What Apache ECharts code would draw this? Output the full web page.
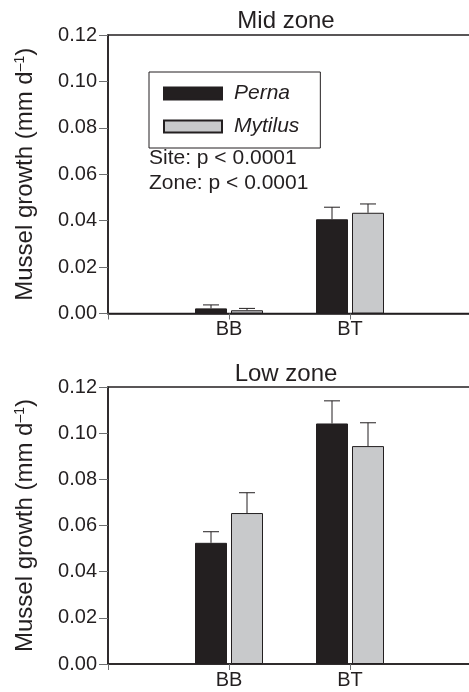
<!DOCTYPE html>
<html>
<head>
<meta charset="utf-8">
<script src="https://cdn.jsdelivr.net/npm/echarts@6/dist/echarts.min.js"></script>
<style>
  html, body { margin: 0; padding: 0; background: #fff; }
  #main { width: 469px; height: 692px; }
</style>
</head>
<body>
<div id="main"></div>
<script>
// sites (blank slots pad the axis on both sides)
var categories = ['', 'BB', 'BT', ''];
var yTicks = [0, 0.02, 0.04, 0.06, 0.08, 0.10, 0.12];

// mid zone
var midPerna = [null, 0.0022, 0.0406, null];
var midPernaErr = [null, 0.0015, 0.0052, null];
var midMytilus = [null, 0.0014, 0.0434, null];
var midMytilusErr = [null, 0.0008, 0.0038, null];

// low zone
var lowPerna = [null, 0.0525, 0.1042, null];
var lowPernaErr = [null, 0.0048, 0.0098, null];
var lowMytilus = [null, 0.0654, 0.0944, null];
var lowMytilusErr = [null, 0.0088, 0.0101, null];

var ink = '#231f20';
var grey = '#c8c9cb';
var font = 'Liberation Sans, Arial, sans-serif';

var chart = echarts.init(document.getElementById('main'));

function errBar(name, idx, vals, errs, offset) {
  var data = [];
  for (var i = 0; i < vals.length; i++) {
    if (vals[i] != null) data.push([i, vals[i], vals[i] + errs[i]]);
  }
  return {
    type: 'custom',
    name: name + ' err',
    xAxisIndex: idx,
    yAxisIndex: idx,
    z: 1,
    silent: true,
    data: data,
    renderItem: function (params, api) {
      var lo = api.coord([api.value(0), api.value(1)]);
      var hi = api.coord([api.value(0), api.value(2)]);
      var x = lo[0] + offset;
      var st = { stroke: ink, lineWidth: 1 };
      return {
        type: 'group',
        children: [
          { type: 'line', shape: { x1: x, y1: lo[1], x2: x, y2: hi[1] }, style: st },
          { type: 'line', shape: { x1: x - 8, y1: hi[1], x2: x + 8, y2: hi[1] }, style: st }
        ]
      };
    }
  };
}

function bars(name, idx, vals, color) {
  return {
    type: 'bar',
    name: name,
    xAxisIndex: idx,
    yAxisIndex: idx,
    z: 2,
    barWidth: 32,
    barGap: '12.5%',
    itemStyle: { color: color, borderColor: ink, borderWidth: 1 },
    data: vals
  };
}

function xAx(idx) {
  return {
    gridIndex: idx,
    type: 'category',
    data: categories,
    boundaryGap: false,
    axisLine: { lineStyle: { color: ink, width: 1.5 } },
    axisTick: { length: 6, lineStyle: { color: '#6d6e70' } },
    axisLabel: { color: ink, fontSize: 20, fontFamily: font, margin: 6 }
  };
}

function yAx(idx) {
  return {
    gridIndex: idx,
    type: 'value',
    min: 0,
    max: 0.12,
    interval: 0.02,
    name: '{a|Mussel growth (mm d}{s|\u20131}{a|)}',
    nameLocation: 'middle',
    nameGap: 71,
    nameTextStyle: {
      rich: {
        a: { fontSize: 24, fontFamily: font, color: ink },
        s: { fontSize: 14, fontFamily: font, color: ink, verticalAlign: 'top', padding: [0, 0, 10, 0] }
      }
    },
    splitLine: { show: false },
    axisLine: { show: true, lineStyle: { color: ink, width: 1.5 } },
    axisTick: { show: true, length: 9, lineStyle: { color: '#6d6e70' } },
    axisLabel: {
      color: ink, fontSize: 20, fontFamily: font, margin: 11,
      formatter: function (v) { return v.toFixed(2); }
    }
  };
}

var option = {
  animation: false,
  backgroundColor: '#fff',
  title: [
    { text: 'Mid zone', left: 281, top: 4, textAlign: 'center',
      textStyle: { fontSize: 24, fontWeight: 'normal', color: ink, fontFamily: font } },
    { text: 'Low zone', left: 281, top: 357, textAlign: 'center',
      textStyle: { fontSize: 24, fontWeight: 'normal', color: ink, fontFamily: font } }
  ],
  legend: {
    data: ['Perna', 'Mytilus'],
    orient: 'vertical',
    left: 149,
    top: 72,
    padding: [11, 21, 11, 14],
    itemWidth: 58,
    itemHeight: 12,
    itemGap: 12,
    icon: 'rect',
    borderColor: ink,
    borderWidth: 1,
    textStyle: { fontSize: 21, fontStyle: 'italic', color: ink, fontFamily: font, padding: [0, 0, 0, 7] }
  },
  grid: [
    { left: 108, top: 35, width: 363, height: 278.5, outerBoundsMode: 'none', containLabel: false,
      show: true, borderColor: ink, borderWidth: 1.5 },
    { left: 108, top: 387, width: 363, height: 277, outerBoundsMode: 'none', containLabel: false,
      show: true, borderColor: ink, borderWidth: 1.5 }
  ],
  xAxis: [xAx(0), xAx(1)],
  yAxis: [yAx(0), yAx(1)],
  graphic: [
    { type: 'text', left: 149, top: 148,
      style: { text: 'Site: p < 0.0001', fontSize: 21, fontFamily: font, fill: ink } },
    { type: 'text', left: 149, top: 173,
      style: { text: 'Zone: p < 0.0001', fontSize: 21, fontFamily: font, fill: ink } }
  ],
  series: [
    bars('Perna', 0, midPerna, ink),
    bars('Mytilus', 0, midMytilus, grey),
    errBar('Perna', 0, midPerna, midPernaErr, -18),
    errBar('Mytilus', 0, midMytilus, midMytilusErr, 18),
    bars('Perna', 1, lowPerna, ink),
    bars('Mytilus', 1, lowMytilus, grey),
    errBar('Perna', 1, lowPerna, lowPernaErr, -18),
    errBar('Mytilus', 1, lowMytilus, lowMytilusErr, 18)
  ]
};

chart.setOption(option);
</script>
</body>
</html>
